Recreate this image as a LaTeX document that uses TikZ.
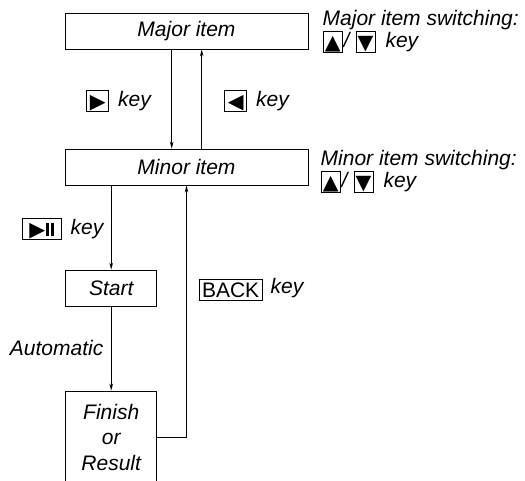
\documentclass[tikz,border=0pt]{standalone}
\usepackage{fontspec}
\usepackage{tikz}
\usetikzlibrary{arrows.meta}
\setmainfont{Liberation Sans}
\newfontfamily\symfont{DejaVu Sans}

% framed key symbol: width, symbol
\newcommand{\keycap}[2]{\raisebox{-4pt}{\setlength{\fboxsep}{0pt}\setlength{\fboxrule}{0.8pt}%
\framebox[#1][c]{\rule{0pt}{19pt}\raisebox{2pt}{\upshape #2}}}}
\newcommand{\tri}[1]{{\symfont\fontsize{20.5}{20.5}\selectfont #1}}
\newcommand{\playpause}{\tri{▶}\kern0.5pt\rule{3.2pt}{13pt}\kern1.8pt\rule{3.2pt}{13pt}}
\newcommand{\backcap}{\raisebox{-3.5pt}{\setlength{\fboxsep}{2.6pt}\setlength{\fboxrule}{0.8pt}\fbox{\upshape BACK}}}
\newcommand{\updown}{\keycap{20pt}{\tri{▲}}\kern1pt/\kern6pt\keycap{20pt}{\tri{▼}}\hspace{10pt}key}

\begin{document}
\begin{tikzpicture}[x=1pt,y=1pt,yscale=-1,xscale=1,
  font=\fontsize{21}{25.5}\selectfont\itshape,
  itembox/.style={draw,line width=0.8pt,inner sep=0pt,align=center},
  flow/.style={line width=0.8pt,-{Stealth[length=7pt,width=3.6pt]}},
  note/.style={inner sep=0pt,align=left,font=\fontsize{21}{22}\selectfont\itshape}]
\clip (0,0) rectangle (525,480);

% Item boxes
\node [itembox,minimum width=243pt,minimum height=36pt] (major) at (186.5,31) {Major item};
\node [itembox,minimum width=243pt,minimum height=36pt] (minor) at (186.5,167) {Minor item};
\node [itembox,minimum width=91pt,minimum height=36.5pt] (start) at (111.2,288.3) {Start};
\node [itembox,minimum width=91pt,minimum height=92pt] (finish) at (111.2,437) {Finish\\or\\Result};

%Straight Lines
\draw [flow] ([xshift=-14.8pt]major.south) -- ([xshift=-14.8pt]minor.north);
\draw [flow] ([xshift=15.2pt]minor.north) -- ([xshift=15.2pt]major.south);
\draw [flow] (start.north |- minor.south) -- (start.north);
\draw [flow] (start.south) -- (finish.north);
\draw [flow] (finish.east) -| (minor.south);

% Text Node
\node [inner sep=0pt] (fwdkey) at (118.5,101) {\keycap{23pt}{\tri{▶}}\hspace{9pt}key};
\node [inner sep=0pt] (backkey) at (256.5,101) {\keycap{23pt}{\tri{◀}}\hspace{9pt}key};
\node [inner sep=0pt] (playkey) at (62.5,229) {\keycap{40pt}{\playpause}\hspace{9pt}key};
\node [inner sep=0pt] (retkey) at (251,289.5) {\backcap\hspace{8pt}key};
\node [inner sep=0pt,anchor=east] (auto) at (103.5,348) {Automatic};
\node [note,anchor=base west] (majsw) at (322.5,47) {Major item switching:\\\updown};
\node [note,anchor=base west] (minsw) at (320.5,187) {Minor item switching:\\\updown};

\end{tikzpicture}
\end{document}
